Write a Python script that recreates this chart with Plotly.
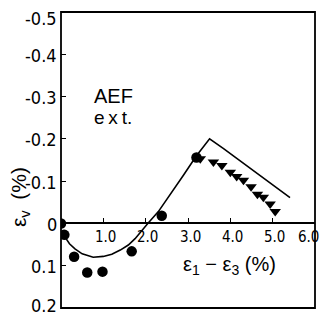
import plotly.graph_objects as go

# Measured data (strain values in %)
circle_x = [0.0, 0.08, 0.31, 0.62, 0.98, 1.67, 2.38, 3.2]
circle_y = [0.0, 0.027, 0.079, 0.116, 0.114, 0.066, -0.018, -0.156]

tri_x = [3.29, 3.60, 3.80, 4.00, 4.15, 4.31, 4.49, 4.64, 4.78, 4.94, 5.06]
tri_y = [-0.153, -0.145, -0.137, -0.121, -0.111, -0.102, -0.087, -0.069, -0.062, -0.046, -0.028]

curve_x = [0.03, 0.1, 0.2, 0.33, 0.5, 0.76, 1.0, 1.2, 1.4, 1.59, 1.75, 1.9, 2.05,
           2.3, 2.6, 2.9, 3.2, 3.51, 3.84, 5.41]
curve_y = [0.017, 0.033, 0.048, 0.06, 0.072, 0.08, 0.078, 0.073, 0.063, 0.051, 0.036,
           0.017, 0.0, -0.028, -0.07, -0.115, -0.16, -0.2, -0.177, -0.061]

x_ticks = [1, 2, 3, 4, 5, 6]
x_ticktext = ["1.0", "2.0", "3.0", "4.0", "5.0", "6.0"]
y_ticks = [-0.5, -0.4, -0.3, -0.2, -0.1, 0, 0.1, 0.2]
y_ticktext = ["-0.5", "-0.4", "-0.3", "-0.2", "-0.1", "0", "0.1", "0.2"]

x_range = [0, 6]
y_range = [0.2, -0.5]

FONT = "Liberation Sans"
NARROW = "Liberation Sans Narrow, DejaVu Sans Condensed, Liberation Sans"

fig = go.Figure()
fig.add_trace(go.Scatter(x=curve_x, y=curve_y, mode="lines",
                         line=dict(color="black", width=1.6), showlegend=False))
fig.add_trace(go.Scatter(x=tri_x, y=tri_y, mode="markers",
                         marker=dict(symbol="triangle-down", size=10, color="black"),
                         showlegend=False))
fig.add_trace(go.Scatter(x=circle_x, y=circle_y, mode="markers",
                         marker=dict(symbol="circle", size=10.5, color="black"),
                         showlegend=False))

zero_pos = (y_range[0] - 0) / (y_range[0] - y_range[1])

annotations = [
    dict(text="AEF", xref="paper", yref="paper", x=0.122, y=0.716,
         xanchor="left", yanchor="middle", align="left", showarrow=False,
         font=dict(size=20, family=FONT)),
    dict(text="e\u2009x\u2009t.", xref="paper", yref="paper", x=0.122, y=0.642,
         xanchor="left", yanchor="middle", align="left", showarrow=False,
         font=dict(size=19, family=FONT)),
    dict(text="ε<sub>1</sub> − ε<sub>3</sub> (%)", xref="paper", yref="paper",
         x=0.663, y=0.142, xanchor="center", yanchor="middle", showarrow=False,
         font=dict(size=20, family=FONT)),
    dict(text="ε<sub>v</sub>\u2002(%)", xref="paper", yref="paper",
         x=0, xshift=-41, y=0.375, xanchor="center", yanchor="middle",
         textangle=-90, showarrow=False, font=dict(size=21, family=FONT)),
]
# x tick labels drawn just below the zero line
for i, (v, t) in enumerate(zip(x_ticks, x_ticktext)):
    last = i == len(x_ticks) - 1
    annotations.append(dict(text=t, x=v, y=0, xref="x", yref="y",
                            xanchor="right" if last else "center", yanchor="top",
                            xshift=6 if last else 2, yshift=-3,
                            showarrow=False, font=dict(size=15, family=NARROW)))
# y tick labels left of the frame (end labels nudged to stay inside the page)
n_y = len(y_ticks)
for i, (v, t) in enumerate(zip(y_ticks, y_ticktext)):
    shift = -6 if i == 0 else (3 if i == n_y - 1 else -1)
    annotations.append(dict(text=t, x=0, y=v, xref="paper", yref="y",
                            xanchor="right", yanchor="middle",
                            xshift=-2, yshift=shift,
                            showarrow=False, font=dict(size=18, family=NARROW)))

fig.update_layout(
    template="none",
    width=312, height=308,
    margin=dict(l=53, r=5, t=4, b=8, pad=0),
    paper_bgcolor="white", plot_bgcolor="white",
    font=dict(family=FONT, color="black", size=13),
    xaxis=dict(range=x_range, anchor="free", position=zero_pos, automargin=False,
               showline=True, linecolor="black", linewidth=1.5,
               showgrid=False, zeroline=False,
               tickvals=x_ticks, showticklabels=False,
               ticks="inside", ticklen=5, tickwidth=1.2, tickcolor="black"),
    yaxis=dict(range=y_range, automargin=False, showline=False,
               showgrid=False, zeroline=False,
               tickvals=y_ticks, showticklabels=False,
               ticks="inside", ticklen=5, tickwidth=1.2, tickcolor="black"),
    shapes=[dict(type="rect", xref="x domain", yref="y domain",
                 x0=0, x1=1, y0=0, y1=1, line=dict(color="black", width=1.8))],
    annotations=annotations,
)

fig.write_html("out.html")
